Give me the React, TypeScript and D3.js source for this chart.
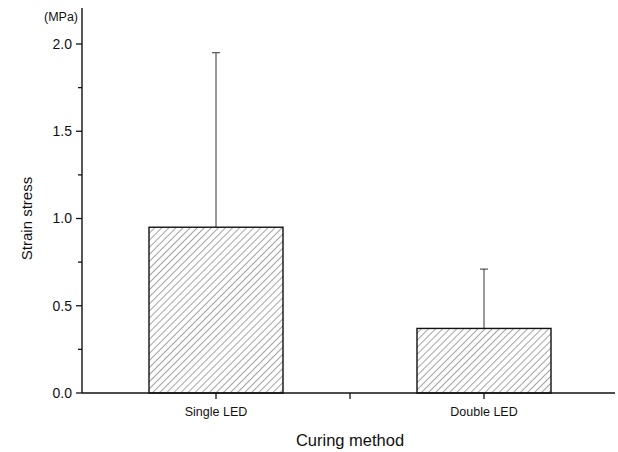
import React from "react";
import * as d3 from "d3";

const categories = ["Single LED", "Double LED"];
const means = [0.95, 0.37];
const errors = [1.0, 0.34];
const yTicks = [0.0, 0.5, 1.0, 1.5, 2.0];
const yMinorTicks = [0.25, 0.75, 1.25, 1.75];

const width = 618;
const height = 452;
const font = "'Liberation Sans', Arial, sans-serif";
const ink = "#111";

const App = () => {
  const x = d3.scaleLinear().domain([0.5, 2.5]).range([82, 618]);
  const y = d3.scaleLinear().domain([0, 2.0]).range([393, 44]);
  const barW = x(1.5) - x(1);
  const cx = (i: number) => x(i + 1);

  return (
    <svg
      width={width}
      height={height}
      style={{ position: "absolute", left: 0, top: 0, background: "#fff" }}
    >
      <defs>
        <pattern
          id="hatch"
          width={5}
          height={5}
          patternUnits="userSpaceOnUse"
          patternTransform="rotate(45)"
        >
          <line x1={0} y1={0} x2={0} y2={5} stroke="#333" strokeWidth={0.9} />
        </pattern>
      </defs>

      {/* error bars */}
      {categories.map((c, i) => (
        <g key={"err" + c} stroke="#333" strokeWidth={1}>
          <line x1={cx(i)} x2={cx(i)} y1={y(means[i])} y2={y(means[i] + errors[i])} />
          <line
            x1={cx(i) - 4}
            x2={cx(i) + 4}
            y1={y(means[i] + errors[i])}
            y2={y(means[i] + errors[i])}
          />
        </g>
      ))}

      {/* bars */}
      {categories.map((c, i) => (
        <rect
          key={c}
          x={cx(i) - barW / 2}
          y={y(means[i])}
          width={barW}
          height={y(0) - y(means[i])}
          fill="url(#hatch)"
          stroke={ink}
          strokeWidth={1.4}
        />
      ))}

      {/* y axis */}
      <line x1={82} x2={82} y1={8} y2={y(0)} stroke={ink} strokeWidth={1.4} />
      {yTicks.map((t) => (
        <g key={t}>
          <line x1={76} x2={82} y1={y(t)} y2={y(t)} stroke={ink} strokeWidth={1.3} />
          <text
            x={72}
            y={y(t)}
            dy="0.35em"
            textAnchor="end"
            fontFamily={font}
            fontSize={14}
            fill={ink}
          >
            {d3.format(".1f")(t)}
          </text>
        </g>
      ))}
      {yMinorTicks.map((t) => (
        <line key={t} x1={78} x2={82} y1={y(t)} y2={y(t)} stroke={ink} strokeWidth={1.3} />
      ))}
      <text x={78} y={21} textAnchor="end" fontFamily={font} fontSize={12.5} fill={ink}>
        (MPa)
      </text>
      <text
        transform={`translate(32, ${y(1.0)}) rotate(-90)`}
        textAnchor="middle"
        fontFamily={font}
        fontSize={15}
        fill={ink}
      >
        Strain stress
      </text>

      {/* x axis */}
      <line x1={82} x2={615} y1={y(0)} y2={y(0)} stroke={ink} strokeWidth={1.4} />
      {[1, 1.5, 2].map((t) => (
        <line key={t} x1={x(t)} x2={x(t)} y1={y(0)} y2={y(0) + 6} stroke={ink} strokeWidth={1.3} />
      ))}
      {categories.map((c, i) => (
        <text
          key={"lbl" + c}
          x={cx(i)}
          y={416}
          textAnchor="middle"
          fontFamily={font}
          fontSize={12.5}
          fill={ink}
        >
          {c}
        </text>
      ))}
      <text
        x={x(1.5)}
        y={446}
        textAnchor="middle"
        fontFamily={font}
        fontSize={16.5}
        fill={ink}
      >
        Curing method
      </text>
    </svg>
  );
};

export default App;
